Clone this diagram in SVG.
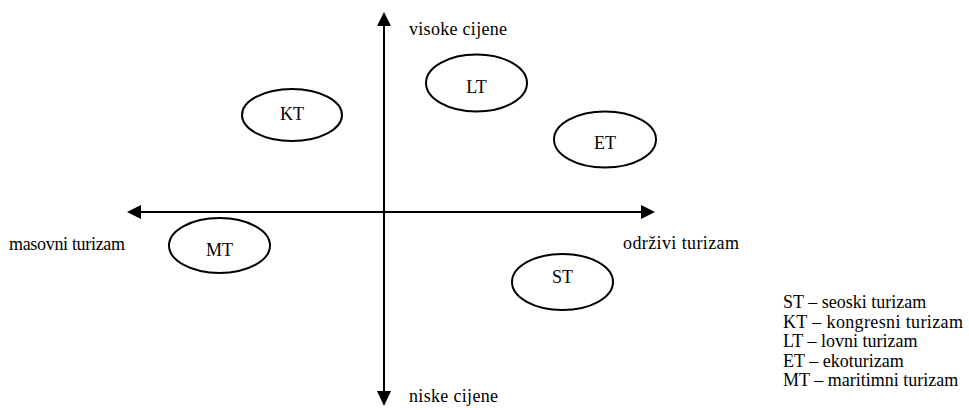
<svg xmlns="http://www.w3.org/2000/svg" width="969" height="410" viewBox="0 0 969 410">
<style>
.lbl{font-family:"Liberation Serif","Times New Roman",serif;font-size:18px;fill:#000}
.nt{font-family:"Liberation Serif","Times New Roman",serif;font-size:18px;text-anchor:middle;fill:#000}
.leg{font-family:"Liberation Serif","Times New Roman",serif;font-size:18px;fill:#000}
ellipse{fill:none;stroke:#000;stroke-width:2}
.ax{stroke:#000;stroke-width:2;fill:none}
.ah{fill:#000;stroke:none}
</style>
<rect width="969" height="410" fill="#fff"/>
<g id="connectors">
<line class="ax" x1="384" y1="25" x2="384" y2="392"/>
<polygon class="ah" points="384,12 377,26 391,26"/>
<polygon class="ah" points="384,406 377,391 391,391"/>
<line class="ax" x1="140" y1="212" x2="642" y2="212"/>
<polygon class="ah" points="127,212 141,205 141,219"/>
<polygon class="ah" points="655,212 641,205 641,219"/>
</g>
<g id="axis-labels">
<text class="lbl" x="409" y="35" textLength="98">visoke cijene</text>
<text class="lbl" x="409" y="402" textLength="89">niske cijene</text>
<text class="lbl" x="9" y="250" textLength="116">masovni turizam</text>
<text class="lbl" x="623" y="249" textLength="116">održivi turizam</text>
</g>
<g id="node-KT"><ellipse cx="292" cy="115" rx="50" ry="26"/><text class="nt" x="292" y="119.5">KT</text></g>
<g id="node-LT"><ellipse cx="476.5" cy="83" rx="50.5" ry="28.5"/><text class="nt" x="476.5" y="92.5">LT</text></g>
<g id="node-ET"><ellipse cx="605" cy="139.5" rx="51" ry="28"/><text class="nt" x="605" y="149">ET</text></g>
<g id="node-MT"><ellipse cx="219.5" cy="245.5" rx="50.5" ry="27.5"/><text class="nt" x="219.5" y="255.5">MT</text></g>
<g id="node-ST"><ellipse cx="562.5" cy="282" rx="50.5" ry="28"/><text class="nt" x="562.5" y="283">ST</text></g>
<g id="legend">
<text class="leg" x="783" y="308">ST – seoski turizam</text>
<text class="leg" x="783" y="328" textLength="180">KT – kongresni turizam</text>
<text class="leg" x="783" y="347">LT – lovni turizam</text>
<text class="leg" x="783" y="367">ET – ekoturizam</text>
<text class="leg" x="783" y="386">MT – maritimni turizam</text>
</g>
</svg>
